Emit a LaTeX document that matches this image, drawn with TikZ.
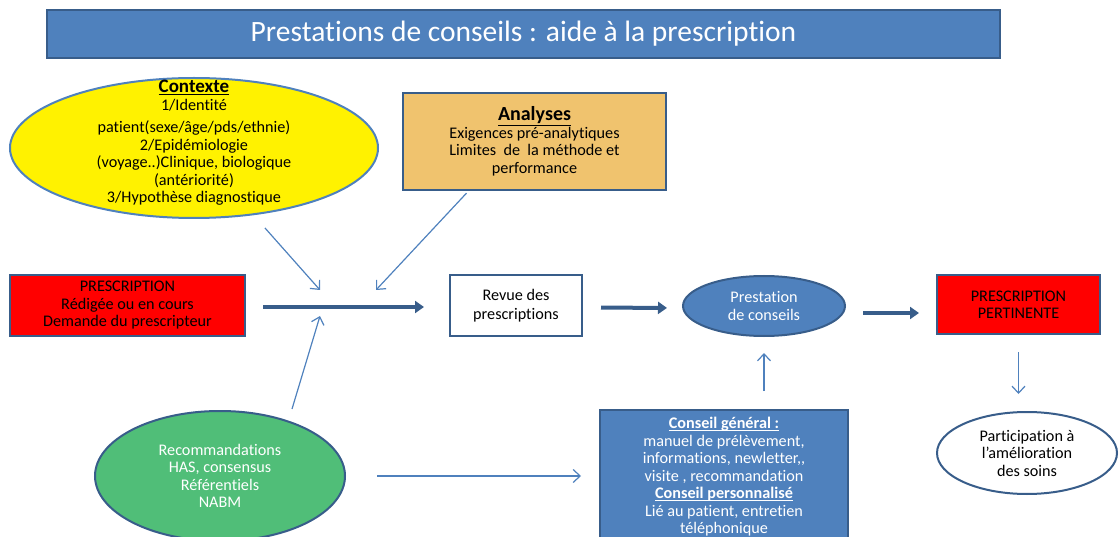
\documentclass[tikz,border=0pt]{standalone}
\usepackage{fontspec}
\setmainfont{Carlito}[Ligatures={TeX,CommonOff}]
\usetikzlibrary{shapes.geometric,arrows.meta,calc}
\definecolor{bleu}{HTML}{4F81BD}
\definecolor{bleufonce}{HTML}{385D8A}
\definecolor{orclair}{HTML}{F0C36E}
\definecolor{vert}{HTML}{50BE78}
\newcommand\souligne[1]{\underline{\raisebox{0pt}[\height][0pt]{#1}}}

\begin{document}
\begin{tikzpicture}[x=1pt,y=-1pt,
    every node/.style={font=\fontsize{16.2}{17.5}\selectfont},
    boite/.style={draw=bleufonce,line width=2pt,align=center,inner sep=0pt},
    ovale/.style={ellipse,draw=bleufonce,line width=2pt,align=center,inner sep=0pt},
    gros/.style={bleufonce,line width=4pt,-{Triangle[length=9pt,width=12pt]}},
    fin/.style={bleu,line width=1.2pt,-{Straight Barb[length=7pt,width=13pt]}}]
    \useasboundingbox (0,0) rectangle (1119,537);
    % titre
    \node[boite,fill=bleu,text=white,minimum width=953pt,minimum height=48pt,
        font=\fontsize{29.5}{32}\selectfont] (Titre) at (523.5,34)
        {Prestations de conseils : aide à la prescription};
    % contexte et analyses
    \node[ovale,fill=yellow,draw=bleu,minimum width=368pt,minimum height=140pt] (Ctx) at (194,148) {};
    \node[align=center] (CtxT) at (194,143)
        {{\fontsize{19}{18}\selectfont\bfseries\underline{Contexte}}\\ 1/Identité\\[5pt]
         patient(sexe/âge/pds/ethnie)\\ 2/Epidémiologie\\ (voyage..)Clinique, biologique\\
         (antériorité)\\ 3/Hypothèse diagnostique};
    \node[boite,fill=orclair,minimum width=263pt,minimum height=97pt] (Ana) at (534.5,141.5)
        {{\fontsize{20}{20}\selectfont\bfseries\underline{Analyses}}\\ Exigences pré-analytiques\\
         Limites~ de~ la méthode et\\ performance};
    % ligne du milieu
    \node[boite,fill=red,minimum width=235pt,minimum height=61pt] (Presc) at (127.5,305.5)
        {PRESCRIPTION\\ Rédigée ou en cours\\ Demande du prescripteur};
    \node[boite,fill=white,minimum width=132pt,minimum height=61pt] (Revue) at (516,305.5)
        {Revue des\\[2pt] prescriptions};
    \node[ovale,fill=bleu,text=white,minimum width=162pt,minimum height=60pt] (Prest) at (764,306)
        {Prestation\\ de conseils};
    \node[boite,fill=red,minimum width=163pt,minimum height=59pt] (Pert) at (1018.5,304.5)
        {PRESCRIPTION\\ PERTINENTE};
    \node[ovale,fill=white,minimum width=180pt,minimum height=82pt] (Part) at (1027,453)
        {Participation à\\ l’amélioration\\ des soins};
    % bas
    \node[ovale,fill=vert,text=white,minimum width=250pt,minimum height=130pt] (Reco) at (220,476)
        {Recommandations\\ HAS, consensus\\ Référentiels\\ NABM};
    \node[boite,fill=bleu,text=white,minimum width=248pt,minimum height=134pt] (Cons) at (724,477)
        {\textbf{\souligne{Conseil général :}}\\ manuel de prélèvement,\\ informations, newletter{,}{,}\\
         visite , recommandation\\ \textbf{\souligne{Conseil personnalisé}}\\
         Lié au patient, entretien\\ téléphonique};
    \coordinate (J1) at (320,290);
    \coordinate (J2) at (376,290);
    \coordinate (J3) at (320,316);
    % fleches
    \draw[gros,shorten <=17pt,shorten >=25pt] ([yshift=-1.5pt]Presc.east) -- ([yshift=-1.5pt]Revue.west);
    \draw[gros,shorten <=18pt,shorten >=15pt] ([yshift=-2pt]Revue.east) -- ([yshift=-2pt]Prest.west);
    \draw[gros,shorten <=17pt,shorten >=17pt] ([yshift=-7pt]Prest.east) -- ([yshift=-8.5pt]Pert.west);
    \draw[fin,shorten <=17pt] (Ctx) -- (J1);
    \draw[fin,shorten <=3pt] ([xshift=-66pt]Ana.south) -- (J2);
    \draw[fin] ([xshift=72pt,yshift=1pt]Reco.north) -- (J3);
    \draw[fin,shorten <=31pt,shorten >=18pt] (Reco.east) -- (Reco.east -| Cons.west);
    \draw[fin,shorten <=18pt,shorten >=16pt] (Cons.north -| Prest.south) -- (Prest.south);
    \draw[fin,shorten <=17pt,shorten >=17pt] (Pert.south) -- (Pert.south |- Part.north);
\end{tikzpicture}
\end{document}
